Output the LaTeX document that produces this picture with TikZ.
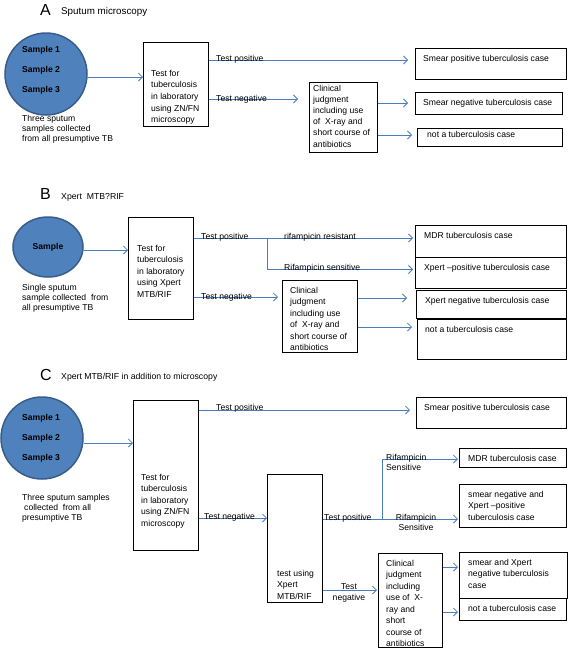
\documentclass[tikz,border=0pt]{standalone}
\usepackage{fontspec}
\setmainfont{Liberation Sans}
\usetikzlibrary{arrows.meta,calc,shapes.geometric}
\definecolor{lineblue}{HTML}{4A7EBB}
\definecolor{circfill}{HTML}{4F81BD}
\definecolor{circedge}{HTML}{385D8A}
\tikzset{
  box/.style={draw=black, line width=0.8pt, inner sep=0pt, anchor=north west},
  txt/.style={anchor=north west, inner sep=0pt, align=left, font=\fontsize{8.6}{11.5}\selectfont},
  captxt/.style={anchor=north west, inner sep=0pt, align=left, font=\fontsize{8.6}{10}\selectfont},
  lbl/.style={anchor=base west, inner sep=0pt, font=\fontsize{8.6}{10}\selectfont},
  smp/.style={anchor=base west, inner sep=0pt, font=\fontsize{8.6}{10}\selectfont\bfseries},
  bigl/.style={anchor=base west, inner sep=0pt, font=\fontsize{16}{16}\selectfont},
  ttl/.style={anchor=base west, inner sep=0pt, font=\fontsize{8.7}{10}\selectfont},
  samp/.style={circle, fill=circfill, draw=circedge, line width=1.5pt, inner sep=0pt},
  arr/.style={draw=lineblue, line width=0.8pt, -{Straight Barb[length=4pt,width=8pt,line width=0.8pt]}},
  ln/.style={draw=lineblue, line width=0.8pt}
}
\newcommand\mkbox[5]{\node[box, minimum width={#4-#2}, minimum height={#5-#3}] (#1) at (#2,#3) {};}
\begin{document}
\begin{tikzpicture}[x=1pt,y=-1pt]
\useasboundingbox (0,0) rectangle (568,648);

% ---------------- A ----------------
\node[bigl] (lA) at (40,15) {A};
\node[ttl, font=\fontsize{9.8}{11}\selectfont] (tA) at (61,14) {Sputum microscopy};
\node[samp, minimum size=82pt] (cA) at (46,74) {};
\node[smp] (sA1) at (22,52) {Sample 1};
\node[smp] (sA2) at (22,72) {Sample 2};
\node[smp] (sA3) at (22,92) {Sample 3};
\node[captxt] (kA) at (22,114.7) {Three sputum\\samples collected\\from all presumptive TB};
\mkbox{bA1}{143}{42}{208}{126}
\node[txt, font=\fontsize{8.6}{11.7}\selectfont] (tA1) at (151,69.7) {Test for\\tuberculosis\\in laboratory\\using ZN/FN\\microscopy};
\mkbox{clA}{309}{82}{377}{152}
\node[txt, font=\fontsize{8.6}{11.2}\selectfont] (tclA) at (313,84.7) {Clinical\\judgment\\including use\\of~~X-ray and\\short course of\\antibiotics};
\mkbox{cA1}{415}{48}{566}{79}
\node[lbl] (tcA1) at (423,61) {Smear positive tuberculosis case};
\mkbox{cA2}{415}{92}{562}{114}
\node[lbl] (tcA2) at (423,105) {Smear negative tuberculosis case};
\mkbox{cA3}{417}{128}{562}{146}
\node[lbl] (tcA3) at (427,137) {not a tuberculosis case};

\coordinate (yA0) at (0,77);
\coordinate (yA1) at (0,60);
\coordinate (yA2) at (0,99);
\coordinate (yA3) at (0,103);
\coordinate (yA4) at (0,135);
\draw[arr] (cA.east |- yA0) -- (bA1.west |- yA0);
\draw[arr, shorten >=7pt] (bA1.east |- yA1) -- (cA1.west |- yA1);
\node[lbl] (pA) at (216,61) {Test positive};
\draw[arr, shorten >=11pt] (bA1.east |- yA2) -- (clA.west |- yA2);
\node[lbl] (nA) at (216,101) {Test negative};
\draw[arr, shorten >=7pt] (clA.east |- yA3) -- (cA2.west |- yA3);
\draw[arr, shorten >=5pt] (clA.east |- yA4) -- (cA3.west |- yA4);

% ---------------- B ----------------
\node[bigl] (lB) at (40,199) {B};
\node[ttl] (tB) at (61,199) {Xpert~~MTB?RIF};
\node[ellipse, fill=circfill, draw=circedge, line width=1.5pt, inner sep=0pt,
      minimum width=70pt, minimum height=60pt, font=\fontsize{8.6}{10}\selectfont\bfseries] (eB) at (48,247) {Sample};
\node[captxt] (kB) at (22,283.7) {Single sputum\\sample collected~~from\\all presumptive TB};
\mkbox{bB1}{128}{217}{193}{319}
\node[txt] (tB1) at (137,244.7) {Test for\\tuberculosis\\in laboratory\\using Xpert\\MTB/RIF};
\mkbox{clB}{282}{280}{357}{352}
\node[txt] (tclB) at (290,286.7) {Clinical\\judgment\\including use\\of~~X-ray and\\short course of\\antibiotics};
\mkbox{cB1}{415}{225}{566}{257}
\node[lbl] (tcB1) at (424,238) {MDR tuberculosis case};
\mkbox{cB2}{415}{257}{566}{288}
\node[lbl] (tcB2) at (424,270) {Xpert –positive tuberculosis case};
\mkbox{cB3}{416}{290}{566}{318}
\node[lbl] (tcB3) at (425,303) {Xpert negative tuberculosis case};
\mkbox{cB4}{417}{319}{566}{359}
\node[lbl] (tcB4) at (425,332) {not a tuberculosis case};

\coordinate (yB0) at (0,250);
\coordinate (yB1) at (0,238);
\coordinate (yB2) at (0,269.5);
\coordinate (yB3) at (0,297);
\coordinate (yB4) at (0,298);
\coordinate (yB5) at (0,327);
\coordinate (brB) at (267,238);
\draw[arr] (eB.east |- yB0) -- (bB1.west |- yB0);
\draw[arr, shorten >=2pt] (bB1.east |- yB1) -- (cB1.west |- yB1);
\draw[arr, shorten >=2pt] (brB) |- (cB2.west |- yB2);
\node[lbl] (pB) at (201,239.5) {Test positive};
\node[lbl] (rrB) at (284,239) {rifampicin resistant};
\node[lbl] (rsB) at (284,270) {Rifampicin sensitive};
\draw[arr, shorten >=4pt] (bB1.east |- yB3) -- (clB.west |- yB3);
\node[lbl] (nB) at (201,299) {Test negative};
\draw[arr, shorten >=9pt] (clB.east |- yB4) -- (cB3.west |- yB4);
\draw[arr, shorten >=5pt] (clB.east |- yB5) -- (cB4.west |- yB5);

% ---------------- C ----------------
\node[bigl] (lC) at (40,380) {C};
\node[ttl] (tC) at (61,379.5) {Xpert MTB/RIF in addition to microscopy};
\node[samp, minimum size=82pt] (cC) at (42,438) {};
\node[smp] (sC1) at (22,420) {Sample 1};
\node[smp] (sC2) at (22,440) {Sample 2};
\node[smp] (sC3) at (22,460) {Sample 3};
\node[captxt] (kC) at (22,493.7) {Three sputum samples\\\hspace*{2pt}collected~~from all\\presumptive TB};
\mkbox{bC1}{133}{400}{198}{550}
\node[txt] (tC1) at (141,473.7) {Test for\\tuberculosis\\in laboratory\\using ZN/FN\\microscopy};
\mkbox{bC2}{267}{474}{322}{602}
\node[txt, font=\fontsize{8.6}{11.8}\selectfont] (tC2) at (277,569.7) {test using\\Xpert\\MTB/RIF};
\mkbox{clC}{378}{553}{442}{647}
\node[txt] (tclC) at (386,559.7) {Clinical\\judgment\\including\\use of~~X-\\ray and\\short\\course of\\antibiotics};
\mkbox{cC1}{416}{397}{566}{428}
\node[lbl] (tcC1) at (424,410) {Smear positive tuberculosis case};
\mkbox{cC2}{459}{448}{566}{467}
\node[lbl] (tcC2) at (468,461) {MDR tuberculosis case};
\mkbox{cC3}{459}{484}{566}{527}
\node[txt] (tcC3) at (468,490.7) {smear negative and\\Xpert –positive\\tuberculosis case};
\mkbox{cC4}{459}{552}{567}{598}
\node[txt] (tcC4) at (468,558.7) {smear and Xpert\\negative tuberculosis\\case};
\mkbox{cC5}{459}{598}{566}{620}
\node[lbl] (tcC5) at (468,611) {not a tuberculosis case};

\coordinate (yC0) at (0,443);
\coordinate (yC1) at (0,410);
\coordinate (yC2) at (0,518);
\coordinate (yC3) at (0,519);
\coordinate (yC4) at (0,459);
\coordinate (yC5) at (0,590);
\coordinate (yC6) at (0,567);
\coordinate (yC7) at (0,612);
\coordinate (brC) at (382,519);
\draw[arr] (cC.east |- yC0) -- (bC1.west |- yC0);
\draw[arr, shorten >=6pt] (bC1.east |- yC1) -- (cC1.west |- yC1);
\node[lbl] (pC) at (216,410) {Test positive};
\draw[arr] (bC1.east |- yC2) -- (bC2.west |- yC2);
\node[lbl] (nC) at (204,519) {Test negative};
\draw[arr, shorten >=1pt] (bC2.east |- yC3) -- (cC3.west |- yC3);
\draw[arr, shorten >=1pt] (brC) |- (cC2.west |- yC4);
\node[lbl] (pC2) at (324,520) {Test positive};
\node[captxt, font=\fontsize{8.6}{10.5}\selectfont] (rsC1) at (386,453.7) {Rifampicin\\Sensitive};
\node[captxt, anchor=north, align=center, font=\fontsize{8.6}{10.5}\selectfont] (rsC2) at (416,513.7) {Rifampicin\\Sensitive};
\draw[arr, shorten >=1pt] (bC2.east |- yC5) -- (clC.west |- yC5);
\node[captxt, anchor=north, align=center, font=\fontsize{8.6}{11}\selectfont] (nC2) at (349,583.7) {Test\\negative};
\draw[arr, shorten >=1pt] (clC.east |- yC6) -- (cC4.west |- yC6);
\draw[arr, shorten >=1pt] (clC.east |- yC7) -- (cC5.west |- yC7);
\end{tikzpicture}
\end{document}
